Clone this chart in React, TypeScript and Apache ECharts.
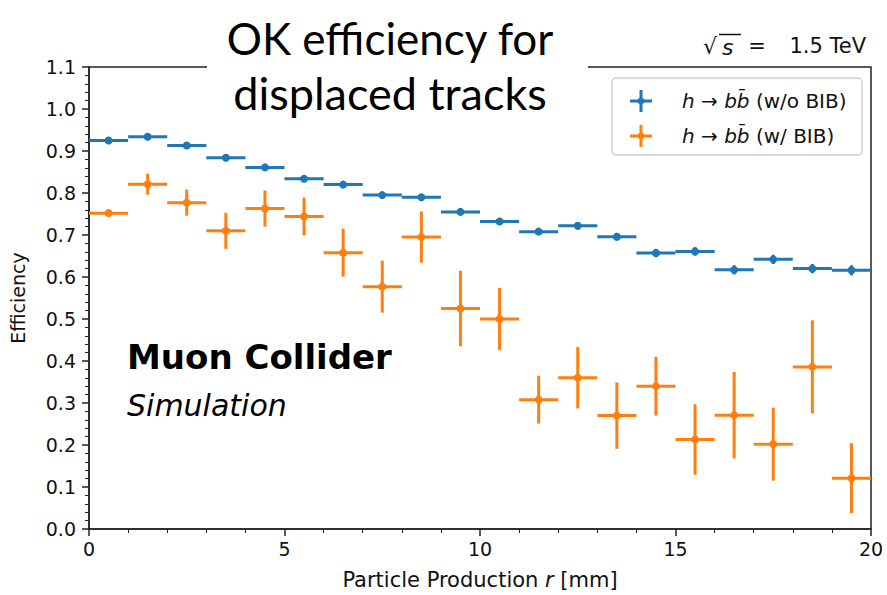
import React, { useEffect, useRef } from "react";
import * as echarts from "echarts";

const binCenters = [0.5, 1.5, 2.5, 3.5, 4.5, 5.5, 6.5, 7.5, 8.5, 9.5, 10.5, 11.5, 12.5, 13.5, 14.5, 15.5, 16.5, 17.5, 18.5, 19.5];
const binHalfWidth = 0.5;
const effNoBIB = [0.925, 0.934, 0.913, 0.884, 0.861, 0.834, 0.820, 0.795, 0.790, 0.755, 0.732, 0.708, 0.722, 0.696, 0.657, 0.661, 0.617, 0.642, 0.620, 0.616];
const errNoBIB = [0.004, 0.004, 0.005, 0.005, 0.006, 0.006, 0.006, 0.007, 0.007, 0.008, 0.008, 0.008, 0.009, 0.009, 0.010, 0.010, 0.011, 0.011, 0.011, 0.012];
const effBIB = [0.752, 0.821, 0.777, 0.710, 0.763, 0.744, 0.658, 0.577, 0.695, 0.525, 0.500, 0.308, 0.360, 0.270, 0.340, 0.213, 0.271, 0.202, 0.386, 0.121];
const errBIB = [0.006, 0.025, 0.031, 0.043, 0.043, 0.045, 0.057, 0.062, 0.061, 0.090, 0.074, 0.057, 0.073, 0.079, 0.070, 0.084, 0.103, 0.087, 0.111, 0.083];
const seriesNames = ["h → bb̄ (w/o BIB)", "h → bb̄ (w/ BIB)"];
const legendRich = ["{i|h} → {i|bb̄} (w/o BIB)", "{i|h} → {i|bb̄} (w/ BIB)"];
const colors = ["#1f77b4", "#ff7f0e"];

const FONT = "DejaVu Sans";

function makeRenderItem() {
  return (params: any, api: any) => {
    const x = api.value(0);
    const y = api.value(1);
    const e = api.value(2);
    const c = api.coord([x, y]);
    const l = api.coord([x - binHalfWidth, y]);
    const r = api.coord([x + binHalfWidth, y]);
    const t = api.coord([x, y + e]);
    const b = api.coord([x, y - e]);
    const color = api.visual("color");
    return {
      type: "group",
      children: [
        { type: "line", shape: { x1: l[0], y1: l[1], x2: r[0], y2: r[1] }, style: { stroke: color, lineWidth: 3 } },
        { type: "line", shape: { x1: t[0], y1: t[1], x2: b[0], y2: b[1] }, style: { stroke: color, lineWidth: 3 } },
        { type: "circle", shape: { cx: c[0], cy: c[1], r: 4 }, style: { fill: color } },
      ],
    };
  };
}

function legendEntry(y: number, color: string, label: string) {
  const cx = 641;
  return [
    { type: "line", shape: { x1: cx - 11, y1: y, x2: cx + 11, y2: y }, style: { stroke: color, lineWidth: 3 }, z: 101 },
    { type: "line", shape: { x1: cx, y1: y - 11, x2: cx, y2: y + 11 }, style: { stroke: color, lineWidth: 3 }, z: 101 },
    { type: "circle", shape: { cx, cy: y, r: 3.5 }, style: { fill: color }, z: 101 },
    {
      type: "text",
      x: 682,
      y,
      z: 101,
      style: {
        text: label,
        font: `20px '${FONT}'`,
        fill: "#111",
        verticalAlign: "middle",
        align: "left",
        rich: {
          i: { fontFamily: FONT, fontSize: 20, fontStyle: "italic", fill: "#111" },
        },
      },
    },
  ];
}

export default function App() {
  const ref = useRef<HTMLDivElement>(null);
  useEffect(() => {
    if (!ref.current) return;
    const chart = echarts.init(ref.current, null, { renderer: "svg" });
    const option: any = {
      animation: false,
      backgroundColor: "#fff",
      grid: {
        left: 89,
        right: 16,
        top: 67,
        bottom: 64,
        show: true,
        borderColor: "#222",
        borderWidth: 1.5,
        backgroundColor: "transparent",
      },
      xAxis: {
        type: "value",
        min: 0,
        max: 20,
        interval: 5,
        name: "Particle Production {i|r} [mm]",
        nameLocation: "middle",
        nameGap: 40,
        nameTextStyle: {
          fontFamily: FONT,
          fontSize: 21,
          color: "#111",
          rich: { i: { fontFamily: FONT, fontSize: 21, fontStyle: "italic", color: "#111" } },
        },
        axisLine: { show: true, onZero: false, lineStyle: { color: "#222", width: 1.5 } },
        axisTick: { show: true, length: 7, lineStyle: { color: "#222", width: 1.5 } },
        minorTick: { show: true, splitNumber: 5, length: 4, lineStyle: { color: "#222", width: 1 } },
        axisLabel: { fontFamily: FONT, fontSize: 19, color: "#111", margin: 10 },
        splitLine: { show: false },
      },
      yAxis: {
        type: "value",
        min: 0,
        max: 1.1,
        interval: 0.1,
        name: "Efficiency",
        nameLocation: "middle",
        nameGap: 62,
        nameRotate: 90,
        nameTextStyle: { fontFamily: FONT, fontSize: 19, color: "#111" },
        axisLine: { show: true, onZero: false, lineStyle: { color: "#222", width: 1.5 } },
        axisTick: { show: true, length: 7, lineStyle: { color: "#222", width: 1.5 } },
        minorTick: { show: true, splitNumber: 5, length: 4, lineStyle: { color: "#222", width: 1 } },
        axisLabel: {
          fontFamily: FONT,
          fontSize: 19,
          color: "#111",
          margin: 13,
          formatter: (v: number) => v.toFixed(1),
        },
        splitLine: { show: false },
      },
      series: [
        {
          name: seriesNames[0],
          type: "custom",
          renderItem: makeRenderItem(),
          itemStyle: { color: colors[0] },
          data: binCenters.map((x, i) => [x, effNoBIB[i], errNoBIB[i]]),
          encode: { x: 0, y: 1 },
          z: 3,
        },
        {
          name: seriesNames[1],
          type: "custom",
          renderItem: makeRenderItem(),
          itemStyle: { color: colors[1] },
          data: binCenters.map((x, i) => [x, effBIB[i], errBIB[i]]),
          encode: { x: 0, y: 1 },
          z: 2,
        },
      ],
      graphic: [
        // Title box
        { type: "rect", shape: { x: 207, y: 0, width: 381, height: 118 }, style: { fill: "#fff" }, z: 100 },
        {
          type: "text",
          x: 390,
          y: 38,
          z: 101,
          style: { text: "OK efficiency for", font: "44px Lato", fill: "#000", align: "center", verticalAlign: "middle" },
        },
        {
          type: "text",
          x: 390,
          y: 93,
          z: 101,
          style: { text: "displaced tracks", font: "45px Lato", fill: "#000", align: "center", verticalAlign: "middle" },
        },
        // sqrt(s) = 1.5 TeV label
        {
          type: "text",
          x: 703,
          y: 46,
          z: 101,
          style: { text: "√", font: `22px '${FONT}'`, fill: "#111", align: "left", verticalAlign: "middle" },
        },
        {
          type: "line",
          shape: { x1: 719, y1: 34.5, x2: 741, y2: 34.5 },
          style: { stroke: "#111", lineWidth: 1.5 },
          z: 101,
        },
        {
          type: "text",
          x: 722,
          y: 47,
          z: 101,
          style: { text: "s", font: `italic 22px '${FONT}'`, fill: "#111", align: "left", verticalAlign: "middle" },
        },
        {
          type: "text",
          x: 757,
          y: 46,
          z: 101,
          style: { text: "=", font: `21px '${FONT}'`, fill: "#111", align: "center", verticalAlign: "middle" },
        },
        {
          type: "text",
          x: 866,
          y: 46,
          z: 101,
          style: { text: "1.5 TeV", font: `21px '${FONT}'`, fill: "#111", align: "right", verticalAlign: "middle" },
        },
        // Legend box
        {
          type: "rect",
          shape: { x: 612, y: 78, width: 250, height: 77, r: 4 },
          style: { fill: "rgba(255,255,255,0.8)", stroke: "#d0d0d0", lineWidth: 1.5 },
          z: 100,
        },
        ...legendEntry(101, colors[0], legendRich[0]),
        ...legendEntry(136, colors[1], legendRich[1]),
        // Muon Collider labels
        {
          type: "text",
          x: 127,
          y: 357,
          z: 101,
          style: { text: "Muon Collider", font: `bold 34px '${FONT}'`, fill: "#000", align: "left", verticalAlign: "middle" },
        },
        {
          type: "text",
          x: 127,
          y: 405,
          z: 101,
          style: { text: "Simulation", font: `italic 30px '${FONT}'`, fill: "#000", align: "left", verticalAlign: "middle" },
        },
      ],
    };
    chart.setOption(option);
    return () => chart.dispose();
  }, []);
  return <div ref={ref} style={{ width: 887, height: 595, position: "absolute", left: 0, top: 0 }} />;
}
